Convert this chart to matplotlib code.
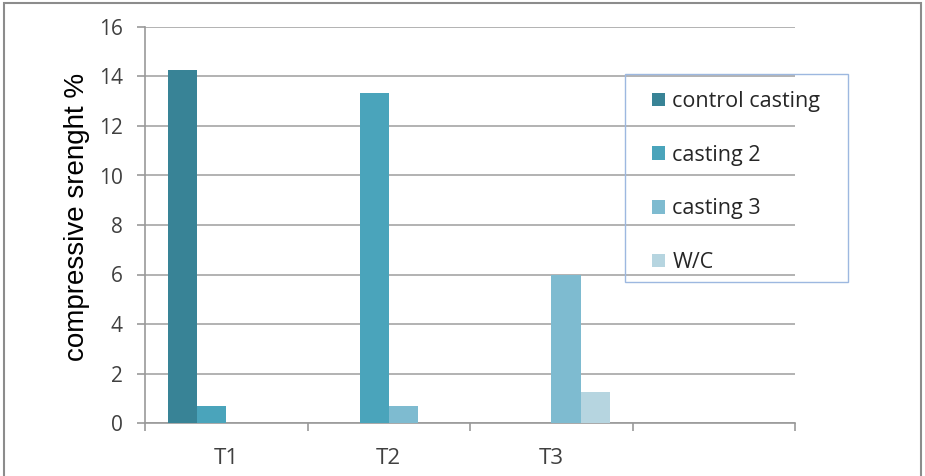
import matplotlib.pyplot as plt
import numpy as np
from matplotlib.patches import Rectangle

categories = ["T1", "T2", "T3", ""]
series_names = ["control casting", "casting 2", "casting 3", "W/C"]
control_casting = [14.25, 0, 0, 0]
casting_2 = [0.7, 13.35, 0, 0]
casting_3 = [0, 0.7, 6.0, 0]
wc = [0, 0, 1.25, 0]
colors = ["#388396", "#4AA4BB", "#7EBBD0", "#B6D5E0"]

W, H = 925, 476
fig = plt.figure(figsize=(W / 100, H / 100), dpi=100)
ax = fig.add_axes([145 / W, (H - 423) / H, 650 / W, 396 / H])

x = np.arange(len(categories))
width = 0.18
all_series = [control_casting, casting_2, casting_3, wc]
for i, (vals, name) in enumerate(zip(all_series, series_names)):
    ax.bar(x + (i - 1.5) * width, vals, width=width, color=colors[i],
           label=name, zorder=3, linewidth=0)

ax.set_xlim(-0.5, len(categories) - 0.5)
ax.set_ylim(0, 16)
ax.set_yticks(range(0, 17, 2))
ax.grid(axis="y", color="#A6A6A6", linewidth=1.2, zorder=0)

grey = "#999999"
for s in ["top", "right"]:
    ax.spines[s].set_visible(False)
ax.spines["left"].set_color(grey)
ax.spines["bottom"].set_color(grey)
ax.spines["left"].set_linewidth(1.2)
ax.spines["bottom"].set_linewidth(1.2)

ax.set_xticks(x)
ax.set_xticklabels(categories)
ax.set_xticks(np.arange(-0.5, len(categories)), minor=True)
ax.tick_params(axis="x", which="major", length=0, pad=18, labelsize=16,
               labelcolor="#404040")
ax.tick_params(axis="x", which="minor", length=6, color=grey, width=1.2)
ax.tick_params(axis="y", length=6, color=grey, width=1.2, labelsize=15,
               labelcolor="#404040", pad=10)
for lbl in ax.get_xticklabels() + ax.get_yticklabels():
    lbl.set_fontfamily("Open Sans")

ax.set_ylabel("compressive srenght %", fontsize=20, family="Liberation Sans",
              color="#000000")
ax.yaxis.set_label_coords(-0.085, 0.52)

# legend entries without frame, the box is drawn separately
leg = ax.legend(loc="upper left", bbox_to_anchor=(652 / W, 1 - 91 / H),
                bbox_transform=fig.transFigure, frameon=False,
                labelspacing=1.52, handlelength=0.6, handleheight=0.6,
                handletextpad=0.35, borderpad=0, borderaxespad=0,
                prop={"family": "Open Sans", "size": 15.5})
for t in leg.get_texts():
    t.set_color("#262626")

fig.patches.append(Rectangle((625 / W, 1 - 282 / H), 223 / W, 208 / H,
                             transform=fig.transFigure, fill=False,
                             edgecolor="#9DB8E0", linewidth=1.0))

# outer chart border
fig.patches.append(Rectangle((4 / W, -0.01), 917 / W, 1 - 3 / H + 0.01,
                             transform=fig.transFigure, fill=False,
                             edgecolor="#8C8C8C", linewidth=1.5))

fig.savefig("out.png", dpi=100)
